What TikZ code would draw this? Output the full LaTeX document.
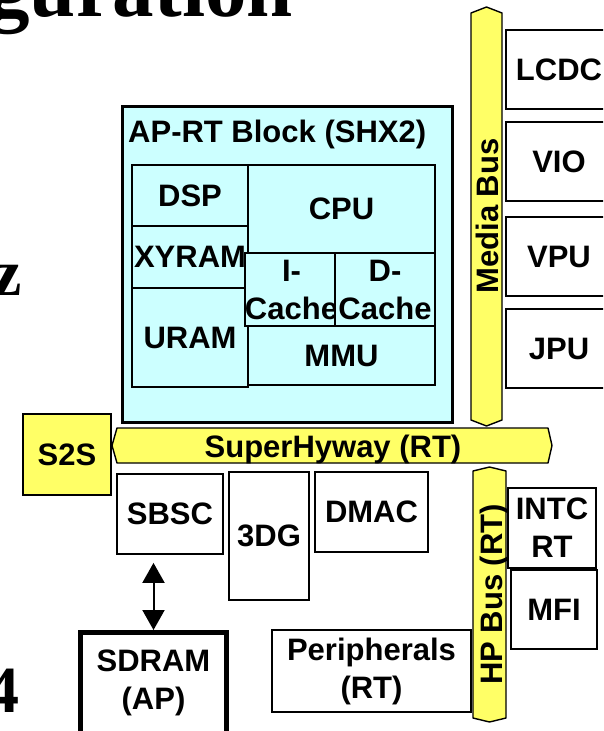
\documentclass[tikz,border=0pt]{standalone}
\usepackage{fontspec}
\setsansfont{Liberation Sans}
\newfontfamily\slidefont{Liberation Serif}
\usetikzlibrary{arrows.meta}
\definecolor{chipCyan}{HTML}{CCFFFF}
\definecolor{busYellow}{HTML}{FFFF66}

\begin{document}
\begin{tikzpicture}[
  x=1pt, y=-1pt,
  font=\sffamily\bfseries\fontsize{31}{38}\selectfont,
  blk/.style={draw, line width=1.8pt, fill=#1, inner sep=0pt, align=center},
  blk/.default=white,
  bus/.style={draw, line width=1.4pt, fill=busYellow, line join=round},
  frag/.style={font=\slidefont\bfseries\fontsize{#1}{#1}\selectfont, inner sep=0pt, anchor=base east},
]
\useasboundingbox (0,0) rectangle (603,731);
\clip (0,0) rectangle (603,731);
\node[frag=83] (ttl) at (293,16) {guration};
\node[frag=66] (zz) at (22,295) {z};
\node[frag=66] (four) at (20,712) {4};
\node[blk=chipCyan, line width=3.3pt, minimum width=330pt, minimum height=316pt] (aprt) at (287.5,264.5) {};
\node[anchor=base west, inner sep=0pt] (aprtt) at (128,142) {AP-RT Block (SHX2)};
\node[blk=chipCyan, minimum width=116pt, minimum height=61pt] (dsp) at (190,195.5) {DSP};
\node[blk=chipCyan, minimum width=116pt, minimum height=62pt] (xyram) at (190,257) {XYRAM};
\node[blk=chipCyan, minimum width=116pt, minimum height=99pt] (uram) at (190,337.5) {URAM};
\node[blk=chipCyan, minimum width=187pt, minimum height=88pt] (cpu) at (341.5,209) {CPU};
\node[blk=chipCyan, minimum width=87pt, minimum height=73pt] (icache) at (291.5,289.5) {I-\\Cache};
\node[blk=chipCyan, minimum width=100pt, minimum height=73pt] (dcache) at (385,289.5) {D-\\Cache};
\node[blk=chipCyan, minimum width=187pt, minimum height=59pt] (mmu) at (341.5,355.5) {MMU};
\draw[bus] (471,13) -- (486.5,7) -- (502,13) -- (502,420) -- (486.5,426) -- (471,420) -- cycle;
\node[rotate=90, anchor=base, inner sep=0pt] (mbus) at (498,216) {Media Bus};
\node[blk, minimum width=106pt, minimum height=79pt] (lcdc) at (559,69.5) {LCDC};
\node[blk, minimum width=106pt, minimum height=79pt] (vio) at (559,161.5) {VIO};
\node[blk, minimum width=106pt, minimum height=79pt] (vpu) at (559,256.5) {VPU};
\node[blk, minimum width=106pt, minimum height=79pt] (jpu) at (559,348.5) {JPU};
\draw[bus] (117,428) -- (548,428) -- (552,445.5) -- (548,463) -- (117,463) -- (112,445.5) -- cycle;
\node[anchor=base, inner sep=0pt] (shw) at (333,457) {SuperHyway (RT)};
\node[blk=busYellow, line width=2.2pt, minimum width=88pt, minimum height=81pt] (s2s) at (67,454.5) {S2S};
\node[blk, minimum width=106pt, minimum height=80pt] (sbsc) at (170,514) {SBSC};
\node[blk, minimum width=80pt, minimum height=128pt] (tdg) at (269,536) {3DG};
\node[blk, minimum width=113pt, minimum height=80pt] (dmac) at (371.5,512) {DMAC};
\draw[bus] (473,471) -- (489.5,467) -- (506,471) -- (506,718) -- (489.5,722) -- (473,718) -- cycle;
\node[rotate=90, anchor=base, inner sep=0pt] (hpbus) at (502,594.5) {HP Bus (RT)};
\node[blk, minimum width=88pt, minimum height=80pt] (intc) at (552,528) {INTC\\RT};
\node[blk, minimum width=86pt, minimum height=79pt] (mfi) at (554,609.5) {MFI};
\node[blk, minimum width=199pt, minimum height=82pt] (peri) at (371.5,671) {Peripherals\\(RT)};
\node[blk, line width=5pt, minimum width=146pt, minimum height=101pt] (sdram) at (153.5,683) {SDRAM\\(AP)};
\draw[line width=2pt, {Triangle[width=22pt,length=20pt]}-{Triangle[width=22pt,length=20pt]}, shorten <=8pt]
  (sdram.north |- sbsc.south) -- (sdram.north);
\end{tikzpicture}
\end{document}
